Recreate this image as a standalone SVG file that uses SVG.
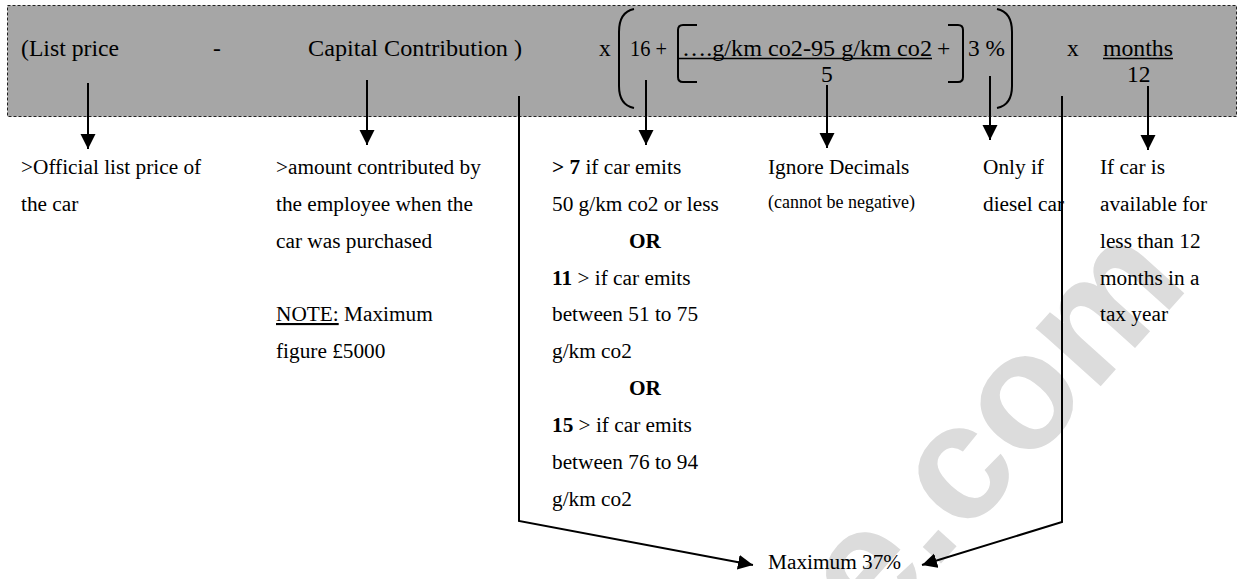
<svg xmlns="http://www.w3.org/2000/svg" width="1240" height="579" viewBox="0 0 1240 579">
<defs>
<style>
.t{font-family:"Liberation Serif","Times New Roman",serif;font-size:21.3px;fill:#000}
.h{font-family:"Liberation Serif","Times New Roman",serif;font-size:23.5px;fill:#000}
.s{font-size:18px}
.b{font-weight:bold}
.br{fill:none;stroke:#000;stroke-width:2}
.ul{stroke:#000;stroke-width:1.5}
.c{fill:none;stroke:#000;stroke-width:2}
.wm{font-family:"Liberation Sans",Arial,sans-serif;font-weight:bold;font-size:165px;fill:#dcdcdc}
</style>
<marker id="ah" markerUnits="userSpaceOnUse" markerWidth="16" markerHeight="16" refX="15" refY="7.5" orient="auto">
<path d="M0,0 L15,7.5 L0,15 z" fill="#000"/>
</marker>
</defs>
<rect width="1240" height="579" fill="#fff"/>
<text class="wm" transform="translate(872,640) rotate(-48)">e.com</text>
<g id="formula">
<rect x="7.5" y="5.5" width="1229" height="111" fill="#a6a6a6" stroke="#222" stroke-width="1" stroke-dasharray="3,2"/>
<text class="h" x="21" y="56" textLength="98" lengthAdjust="spacingAndGlyphs">(List price</text>
<text class="h" x="213" y="56">-</text>
<text class="h" x="308" y="56" textLength="214" lengthAdjust="spacingAndGlyphs">Capital Contribution )</text>
<text class="h" x="599" y="56">x</text>
<path class="br" d="M634,9 Q619,12 619,32 L619,86 Q619,105 634,108"/>
<text class="h" x="630" y="56" textLength="37" lengthAdjust="spacingAndGlyphs">16 +</text>
<path class="br" d="M697,25 L683,25 Q678,25 678,30 L678,77 Q678,82 683,82 L697,82"/>
<text class="h" x="682" y="56" textLength="250" lengthAdjust="spacingAndGlyphs">….g/km co2-95 g/km co2</text>
<line class="ul" x1="678" y1="58.5" x2="932" y2="58.5"/>
<text class="h" x="821" y="82">5</text>
<text class="h" x="937" y="56">+</text>
<path class="br" d="M948,25 L958,25 Q963,25 963,30 L963,77 Q963,82 958,82 L948,82"/>
<text class="h" x="968" y="56" textLength="37" lengthAdjust="spacingAndGlyphs">3 %</text>
<path class="br" d="M997,9 Q1012,12 1012,32 L1012,86 Q1012,105 997,108"/>
<text class="h" x="1067" y="56">x</text>
<text class="h" x="1103" y="56" textLength="70" lengthAdjust="spacingAndGlyphs">months</text>
<line class="ul" x1="1103" y1="58.5" x2="1173" y2="58.5"/>
<text class="h" x="1127" y="82">12</text>
</g>
<g id="connectors">
<line class="c" x1="88" y1="83" x2="88" y2="149" marker-end="url(#ah)"/>
<line class="c" x1="367" y1="80" x2="367" y2="145" marker-end="url(#ah)"/>
<line class="c" x1="646" y1="80" x2="646" y2="145" marker-end="url(#ah)"/>
<line class="c" x1="827" y1="85" x2="827" y2="148" marker-end="url(#ah)"/>
<line class="c" x1="990" y1="76" x2="990" y2="140" marker-end="url(#ah)"/>
<line class="c" x1="1148" y1="86" x2="1148" y2="150" marker-end="url(#ah)"/>
<polyline class="c" points="519,96 519,521 753,565" marker-end="url(#ah)"/>
<polyline class="c" points="1062,96 1062,522 922,565" marker-end="url(#ah)"/>
</g>
<g id="listprice">
<text class="t" x="21" y="174">&gt;Official list price of</text>
<text class="t" x="21" y="211">the car</text>
</g>
<g id="capital">
<text class="t" x="276" y="174">&gt;amount contributed by</text>
<text class="t" x="276" y="211">the employee when the</text>
<text class="t" x="276" y="248">car was purchased</text>
<text class="t" x="276" y="321"><tspan text-decoration="underline">NOTE:</tspan> Maximum</text>
<text class="t" x="276" y="358">figure £5000</text>
</g>
<g id="rate">
<text class="t" x="552" y="174"><tspan class="b">&gt; 7</tspan> if car emits</text>
<text class="t" x="552" y="211">50 g/km co2 or less</text>
<text class="t b" x="645" y="248" text-anchor="middle">OR</text>
<text class="t" x="552" y="285"><tspan class="b">11</tspan> &gt; if car emits</text>
<text class="t" x="552" y="321">between 51 to 75</text>
<text class="t" x="552" y="358">g/km co2</text>
<text class="t b" x="645" y="395" text-anchor="middle">OR</text>
<text class="t" x="552" y="432"><tspan class="b">15</tspan> &gt; if car emits</text>
<text class="t" x="552" y="469">between 76 to 94</text>
<text class="t" x="552" y="506">g/km co2</text>
</g>
<g id="decimals">
<text class="t" x="768" y="174">Ignore Decimals</text>
<text class="t s" x="768" y="208">(cannot be negative)</text>
</g>
<g id="diesel">
<text class="t" x="983" y="174">Only if</text>
<text class="t" x="983" y="211">diesel car</text>
</g>
<g id="months">
<text class="t" x="1100" y="174">If car is</text>
<text class="t" x="1100" y="211">available for</text>
<text class="t" x="1100" y="248">less than 12</text>
<text class="t" x="1100" y="285">months in a</text>
<text class="t" x="1100" y="321">tax year</text>
</g>
<g id="maximum">
<text class="t" x="768" y="569">Maximum 37%</text>
</g>
</svg>
